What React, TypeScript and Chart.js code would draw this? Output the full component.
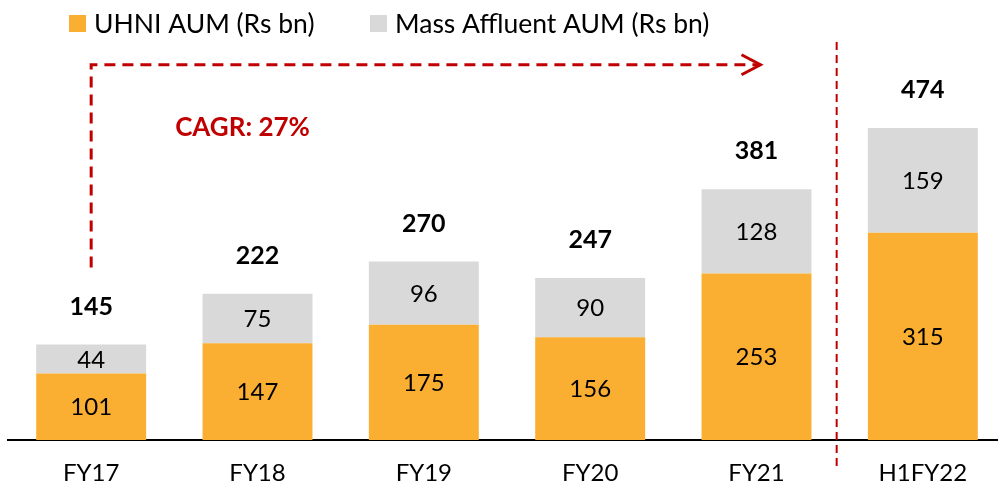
import React, { useEffect, useRef } from "react";
import { Chart, registerables } from "chart.js";

Chart.register(...registerables);

const CATEGORIES = ["FY17", "FY18", "FY19", "FY20", "FY21", "H1FY22"];
const UHNI = [101, 147, 175, 156, 253, 315];
const MASS = [44, 75, 96, 90, 128, 159];
const TOTALS = [145, 222, 270, 247, 381, 474];
const SERIES_NAMES = ["UHNI AUM (Rs bn)", "Mass Affluent AUM (Rs bn)"];
const COLORS = ["#FAAF32", "#D9D9D9"];
const CAGR_LABEL = "CAGR: 27%";
const RED = "#C00000";
const FONT = "Lato, 'Open Sans', sans-serif";

const labelsPlugin = {
  id: "labels",
  afterDatasetsDraw(chart: any) {
    const ctx = chart.ctx;
    const xs = chart.scales.x;
    const ys = chart.scales.y;
    ctx.save();
    ctx.textAlign = "center";
    ctx.textBaseline = "middle";
    ctx.fillStyle = "#000";
    ctx.font = `24px ${FONT}`;
    chart.data.datasets.forEach((ds: any, di: number) => {
      const meta = chart.getDatasetMeta(di);
      meta.data.forEach((bar: any, i: number) => {
        const y = (bar.y + bar.base) / 2;
        ctx.fillText(String(ds.data[i]), bar.x, y + 1);
      });
    });
    ctx.font = `bold 25px ${FONT}`;
    const top = chart.getDatasetMeta(1).data;
    top.forEach((bar: any, i: number) => {
      ctx.fillText(String(TOTALS[i]), bar.x, bar.y - 38);
    });

    // CAGR arrow
    const x0 = xs.getPixelForValue(0);
    const x1 = xs.getPixelForValue(1);
    const x4 = xs.getPixelForValue(4);
    const x5 = xs.getPixelForValue(5);
    const yStart = ys.getPixelForValue(262);
    const yTop = ys.getPixelForValue(570);
    const tip = x4 + 4;
    ctx.strokeStyle = RED;
    ctx.lineWidth = 3;
    ctx.setLineDash([11, 7]);
    ctx.beginPath();
    ctx.moveTo(x0, yStart);
    ctx.lineTo(x0, yTop);
    ctx.lineTo(tip - 2, yTop);
    ctx.stroke();
    ctx.setLineDash([]);
    ctx.beginPath();
    ctx.moveTo(tip - 19, yTop - 10);
    ctx.lineTo(tip, yTop);
    ctx.lineTo(tip - 19, yTop + 10);
    ctx.stroke();

    ctx.fillStyle = RED;
    ctx.font = `bold 26px ${FONT}`;
    ctx.fillText(CAGR_LABEL, x0 + 0.91 * (x1 - x0), ys.getPixelForValue(474));

    // vertical separator
    const xm = (x4 + x5) / 2 - 3;
    ctx.lineWidth = 2;
    ctx.setLineDash([8, 5]);
    ctx.beginPath();
    ctx.moveTo(xm, 42);
    ctx.lineTo(xm, 468);
    ctx.stroke();
    ctx.setLineDash([]);

    // legend
    ctx.textAlign = "left";
    ctx.font = `26.5px ${FONT}`;
    const legendX = [69, 370];
    SERIES_NAMES.forEach((name, i) => {
      ctx.fillStyle = COLORS[i];
      ctx.fillRect(legendX[i], 15, 17, 17);
      ctx.fillStyle = "#000";
      ctx.fillText(name, legendX[i] + 25, 24);
    });
    ctx.restore();
  },
};

export default function App() {
  const ref = useRef<HTMLCanvasElement>(null);
  useEffect(() => {
    if (!ref.current) return;
    const chart = new Chart(ref.current, {
      type: "bar",
      data: {
        labels: CATEGORIES,
        datasets: [
          { label: SERIES_NAMES[0], data: UHNI, backgroundColor: COLORS[0], categoryPercentage: 1, barPercentage: 0.661 },
          { label: SERIES_NAMES[1], data: MASS, backgroundColor: COLORS[1], categoryPercentage: 1, barPercentage: 0.661 },
        ],
      },
      options: {
        responsive: false,
        animation: false,
        layout: { padding: { top: 45, left: 8, right: 4, bottom: 0 } },
        plugins: { legend: { display: false }, tooltip: { enabled: false } },
        scales: {
          x: {
            stacked: true,
            grid: { display: false },
            border: { display: true, color: "#000", width: 2 },
            ticks: { color: "#000", font: { family: FONT, size: 24 }, padding: 11 },
            afterFit: (s: any) => { s.height = 50; },
          },
          y: { stacked: true, display: false, min: 0, max: 600 },
        },
      },
      plugins: [labelsPlugin],
    } as any);
    return () => chart.destroy();
  }, []);
  return (
    <div style={{ position: "fixed", left: 0, top: 0, width: 998, height: 490, overflow: "hidden", background: "#fff" }}>
      <canvas ref={ref} width={1010} height={490} style={{ display: "block", width: 1010, height: 490 }} />
    </div>
  );
}
